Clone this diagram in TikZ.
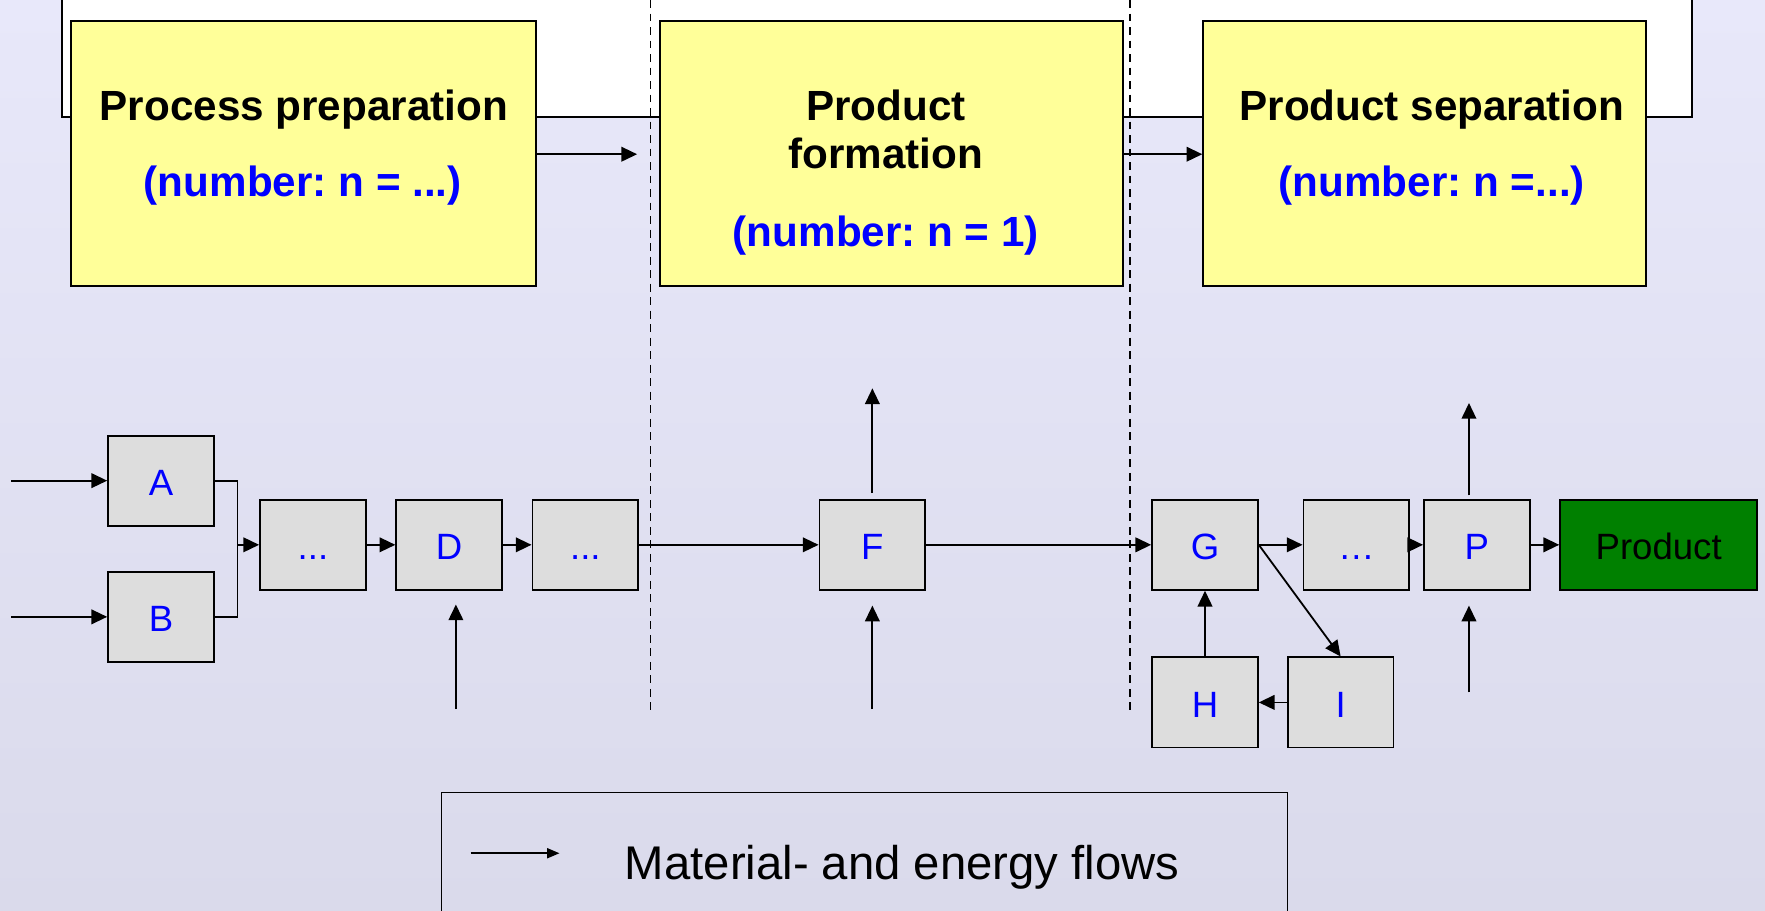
\documentclass[tikz,border=0pt]{standalone}
\usepackage{fontspec}
\setmainfont{Liberation Sans}
\usetikzlibrary{arrows.meta}
\definecolor{bgtop}{RGB}{232,232,250}
\definecolor{bgbot}{RGB}{218,218,235}
\definecolor{boxyellow}{RGB}{255,255,153}
\definecolor{boxgray}{RGB}{221,221,221}
\definecolor{prodgreen}{RGB}{0,128,0}
\definecolor{txtblue}{RGB}{0,0,255}
\frenchspacing
\begin{document}
\begin{tikzpicture}[x=1pt,y=-1pt,
  titlebox/.style={draw, line width=1.8pt, fill=boxyellow, minimum height=235pt, inner sep=0pt},
  unit/.style={draw, line width=1.6pt, fill=boxgray, minimum width=94pt, minimum height=80pt,
     inner sep=0pt, text=txtblue, font=\fontsize{32.5}{38}\selectfont, text height=26pt, text depth=0pt},
  flow/.style={line width=1.6pt, -{Triangle[length=14pt,width=13pt]}},
  plain/.style={line width=1.6pt},
  sepline/.style={line width=1.4pt, dash pattern=on 7pt off 5pt},
  title/.style={font=\fontsize{37.5}{45}\selectfont\bfseries, anchor=base, inner sep=0pt},
  num/.style={title, text=txtblue}]
\useasboundingbox (0,0) rectangle (1568,809);
\shade[top color=bgtop,bottom color=bgbot] (0,0) rectangle (1568,809);
% white upper band
\draw[fill=white, line width=1.6pt] (55,-10) rectangle (1503,104);
% separators
\draw[sepline] (578,0) -- (578,633);
\draw[sepline] (1004,0) -- (1004,633);
% phase boxes
\node[titlebox, minimum width=413pt] (pp) at (269.5,136.5) {};
\node[titlebox, minimum width=412pt] (pf) at (792,136.5) {};
\node[titlebox, minimum width=393pt] (ps) at (1265.5,136.5) {};
\node[title] (pp1) at (270,107) {Process preparation};
\node[num] (pp2) at (269,175) {(number: n = ...)};
\node[title] (pf1) at (787,107) {Product};
\node[title] (pf2) at (787,150) {formation};
\node[num] (pf3) at (787,219) {(number: n = 1)};
\node[title] (ps1) at (1272,107) {Product separation};
\node[num] (ps2) at (1272,175) {(number: n =...)};
\coordinate (ppend) at (566,137);
\draw[flow] (pp.east |- ppend) -- (ppend);
\draw[flow] (pf.east |- ppend) -- (ps.west |- ppend);
% unit operations
\node[unit] (A) at (143,427) {A};
\node[unit] (B) at (143,548) {B};
\node[unit] (d1) at (278,484) {...};
\node[unit] (D) at (399,484) {D};
\node[unit] (d2) at (520,484) {...};
\node[unit] (F) at (775,484) {F};
\node[unit] (G) at (1070.5,484) {G};
\node[unit] (d3) at (1205,484) {…};
\node[unit] (P) at (1312,484) {P};
\node[unit, fill=prodgreen, text=black, minimum width=175pt] (prod) at (1473.5,484) {Product};
\node[unit] (H) at (1070.5,624) {H};
\node[unit] (I) at (1191,624) {I};
% feeds
\coordinate (inA) at (10,427);
\coordinate (inB) at (10,548);
\draw[flow] (inA) -- (A.west);
\draw[flow] (inB) -- (B.west);
\coordinate (j) at (211,484);
\draw[plain] (A.east) -| (j);
\draw[plain] (B.east) -| (j);
\draw[flow] (j) -- (d1.west);
\draw[flow] (d1) -- (D);
\draw[flow] (D) -- (d2);
\draw[flow] (d2) -- (F);
\draw[flow] (F) -- (G);
\draw[flow] (G) -- (d3);
\draw[flow] (d3) -- (P);
\draw[flow] (P) -- (prod);
\draw[flow] (G.east) -- (I.north);
\draw[flow] (I) -- (H);
\draw[flow] (H) -- (G);
% vertical streams
\coordinate (Din) at (405,630);
\coordinate (Dtip) at (405,537);
\draw[flow] (Din) -- (Dtip);
\coordinate (Fin) at (775,630);
\coordinate (Ftip) at (775,538);
\draw[flow] (Fin) -- (Ftip);
\coordinate (Fo1) at (775,438);
\coordinate (Fo2) at (775,345);
\draw[flow] (Fo1) -- (Fo2);
\coordinate (Pin) at (1305,615);
\coordinate (Ptip) at (1305,538);
\draw[flow] (Pin) -- (Ptip);
\coordinate (Po1) at (1305,440);
\coordinate (Po2) at (1305,358);
\draw[flow] (Po1) -- (Po2);
% legend
\draw[line width=1.3pt] (392,830) -- (392,704) -- (1144,704) -- (1144,830);
\coordinate (lg1) at (418,758);
\coordinate (lg2) at (497,758);
\draw[line width=1.4pt, -{Triangle[length=11pt,width=9pt]}] (lg1) -- (lg2);
\node[anchor=base west, inner sep=0pt, font=\fontsize{42}{50}\selectfont] (lgt) at (555,781) {Material- and energy flows};
\end{tikzpicture}
\end{document}
